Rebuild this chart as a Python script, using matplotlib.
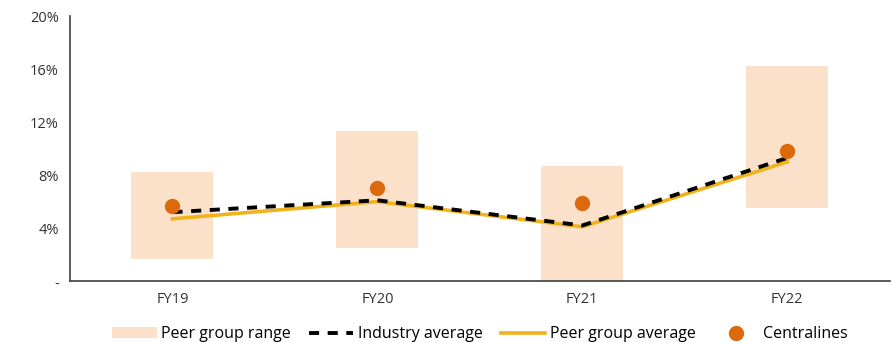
import matplotlib.pyplot as plt
import numpy as np
from matplotlib.ticker import FuncFormatter

plt.rcParams['font.family'] = ['Open Sans', 'DejaVu Sans']

years = ['FY19', 'FY20', 'FY21', 'FY22']
range_low = [1.65, 2.5, 0.0, 5.5]
range_high = [8.2, 11.3, 8.7, 16.2]
industry_avg = [5.2, 6.1, 4.2, 9.3]
peer_avg = [4.7, 6.0, 4.1, 9.0]
centralines = [5.7, 7.0, 5.9, 9.8]

x = np.arange(len(years))

fig = plt.figure(figsize=(8.93, 3.42), dpi=100)
ax = fig.add_axes([0.0784, 0.178, 0.918, 0.775])

heights = [h - l for h, l in zip(range_high, range_low)]
h_range = ax.bar(x, heights, bottom=range_low, width=0.4, color='#FCE1CA',
                 label='Peer group range', zorder=1)
h_ind, = ax.plot(x, industry_avg, color='black', lw=2.8, dashes=(2.6, 2.2),
                 label='Industry average', zorder=3)
h_peer, = ax.plot(x, peer_avg, color='#F2B21B', lw=2.6,
                  label='Peer group average', zorder=2)
h_cl, = ax.plot(x, centralines, 'o', color='#DC6A0C', ms=10,
                label='Centralines', zorder=4)

ax.set_xlim(-0.5, 3.5)
ax.set_ylim(0, 20)
ax.set_yticks([0, 4, 8, 12, 16, 20])
ax.yaxis.set_major_formatter(FuncFormatter(lambda v, p: '-' if v == 0 else f'{v:.0f}%'))
ax.set_xticks(x)
ax.set_xticklabels(years)
ax.tick_params(length=0, labelsize=10.5, colors='#333333')
ax.tick_params(axis='y', pad=8)
ax.tick_params(axis='x', pad=8)

for side in ['top', 'right']:
    ax.spines[side].set_visible(False)
ax.spines['left'].set_color('#404040')
ax.spines['bottom'].set_color('#404040')
ax.spines['left'].set_linewidth(1.2)
ax.spines['bottom'].set_linewidth(1.2)

ax.legend([h_range, h_ind, h_peer, h_cl],
          ['Peer group range', 'Industry average', 'Peer group average', 'Centralines'],
          loc='center', bbox_to_anchor=(0.50, -0.2), ncol=4, frameon=False,
          fontsize=11.5, handlelength=2.8, handletextpad=0.3, columnspacing=1.1,
          borderaxespad=0)

fig.savefig('out.png', dpi=100)
